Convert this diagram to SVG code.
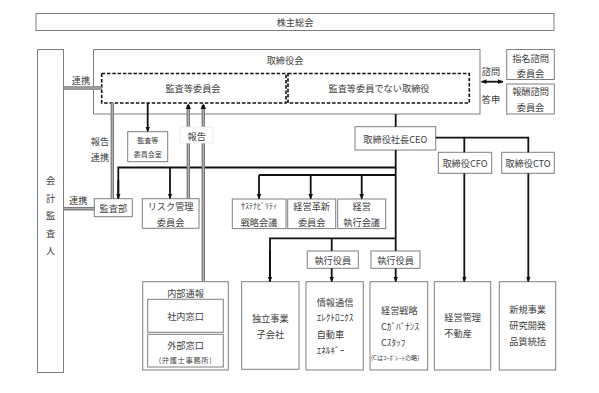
<svg xmlns="http://www.w3.org/2000/svg" width="599" height="393" viewBox="0 0 599 393">
<style>
text{font-family:"Noto Sans CJK JP","Noto Sans",sans-serif;font-size:9.2px;fill:#404040;dominant-baseline:central;text-anchor:middle}
.bx{fill:#fff;stroke:#7f7f7f;stroke-width:1}
.ds{fill:none;stroke:#111;stroke-width:1.6;stroke-dasharray:3.5 1.8}
.k{fill:none;stroke:#111;stroke-width:1.8}
.g1{fill:none;stroke:#7a7a7a;stroke-width:3.4}
.g2{fill:none;stroke:#bdbdbd;stroke-width:1}
.l{text-anchor:start}
.sm{font-size:7px}
</style>
<defs>
<marker id="ah" markerWidth="6" markerHeight="6" refX="5" refY="3" orient="auto" markerUnits="userSpaceOnUse">
<path d="M0,0.6 L5.5,3 L0,5.4 Z" fill="#111"/>
</marker>
<marker id="as" markerWidth="6" markerHeight="6" refX="0.5" refY="3" orient="auto" markerUnits="userSpaceOnUse">
<path d="M5.5,0.6 L0,3 L5.5,5.4 Z" fill="#111"/>
</marker>
</defs>

<g id="shareholders"><rect class="bx" x="36" y="13.5" width="518" height="17"/><text x="295" y="22">株主総会</text></g>

<g id="auditor"><rect class="bx" x="37.5" y="49.5" width="26" height="323"/>
<text x="50.5" y="180">会</text><text x="50.5" y="197.5">計</text><text x="50.5" y="215">監</text><text x="50.5" y="232.5">査</text><text x="50.5" y="250">人</text></g>

<g id="board"><rect class="bx" x="93.5" y="49.5" width="386.5" height="64.5"/><text x="285" y="60">取締役会</text></g>
<g id="audit-committee"><rect class="ds" x="101.7" y="73.5" width="184.3" height="29.5"/><text x="193" y="88">監査等委員会</text></g>
<g id="non-audit-directors"><rect class="ds" x="288" y="73.5" width="181.3" height="29.5"/><text x="379" y="88">監査等委員でない取締役</text></g>

<g id="nomination"><rect class="bx" x="506.7" y="49.5" width="47.6" height="30"/><text x="530.5" y="57.5">指名諮問</text><text x="530.5" y="72.5">委員会</text></g>
<g id="remuneration"><rect class="bx" x="506.7" y="84" width="47.6" height="30"/><text x="530.5" y="91">報酬諮問</text><text x="530.5" y="107">委員会</text></g>

<g id="audit-office"><rect class="bx" x="127.7" y="131.7" width="40" height="30"/><text class="sm" x="147.7" y="140">監査等</text><text class="sm" x="147.7" y="154">委員会室</text></g>

<g id="ceo"><rect class="bx" x="355" y="126.7" width="80.7" height="23.3"/><text x="395.3" y="138.5">取締役社長CEO</text></g>
<g id="cfo"><rect class="bx" x="438.3" y="152.3" width="53.4" height="21"/><text x="465" y="163">取締役CFO</text></g>
<g id="cto"><rect class="bx" x="501.7" y="152.3" width="52.6" height="21"/><text x="528" y="163">取締役CTO</text></g>

<g id="audit-dept"><rect class="bx" x="94.3" y="198.7" width="38" height="18"/><text x="113.3" y="208">監査部</text></g>
<g id="risk"><rect class="bx" x="142.3" y="198.7" width="56.7" height="29.6"/><text x="170.6" y="205.5">リスク管理</text><text x="170.6" y="221.5">委員会</text></g>
<g id="sustainability"><rect class="bx" x="232.3" y="199" width="53.7" height="29.6"/><text x="259" y="205.5" style="font-size:8px">ｻｽﾃﾅﾋﾞﾘﾃｨ</text><text x="259" y="221.5">戦略会議</text></g>
<g id="innovation"><rect class="bx" x="287.7" y="199" width="48" height="29.6"/><text x="311.7" y="205.5">経営革新</text><text x="311.7" y="221.5">委員会</text></g>
<g id="exec-meeting"><rect class="bx" x="337.7" y="199" width="48" height="29.6"/><text x="361.7" y="205.5">経営</text><text x="361.7" y="221.5">執行会議</text></g>

<g id="officer1"><rect class="bx" x="307.3" y="251" width="51" height="17.3"/><text x="332.8" y="259.7">執行役員</text></g>
<g id="officer2"><rect class="bx" x="371" y="251" width="49" height="17.3"/><text x="395.5" y="259.7">執行役員</text></g>

<g id="whistleblow"><rect class="bx" x="142.7" y="281.7" width="85.6" height="88.3"/><text x="185.5" y="292.7">内部通報</text>
<rect class="bx" x="147.7" y="299.3" width="75.6" height="33"/><text x="185.5" y="316">社内窓口</text>
<rect class="bx" x="147.7" y="334.3" width="75.6" height="32.7"/><text x="185.5" y="345">外部窓口</text><text x="185.5" y="360" style="font-size:7.3px;letter-spacing:0.6px">(弁護士事務所)</text></g>

<g id="subsidiary"><rect class="bx" x="241.7" y="281.7" width="57.3" height="87.6"/><text x="270.3" y="318.3">独立事業</text><text x="270.3" y="334.3">子会社</text></g>
<g id="it"><rect class="bx" x="306" y="281.7" width="57.3" height="88.3"/><text class="l" x="316.7" y="301.7">情報通信</text><text class="l" x="316.7" y="317.3">ｴﾚｸﾄﾛﾆｸｽ</text><text class="l" x="316.7" y="334">自動車</text><text class="l" x="316.7" y="350">ｴﾈﾙｷﾞｰ</text></g>
<g id="strategy"><rect class="bx" x="370" y="281.7" width="57.7" height="88.3"/><text class="l" x="381" y="310">経営戦略</text><text class="l" x="381" y="326">Cｶﾞﾊﾞﾅﾝｽ</text><text class="l" x="381" y="341.7">Cｽﾀｯﾌ</text><text class="l" x="371" y="357.3" style="font-size:6.2px">(Cはｺｰﾎﾟﾚｰﾄの略)</text></g>
<g id="management"><rect class="bx" x="434.3" y="281.7" width="56.4" height="88.3"/><text class="l" x="444.3" y="317.3">経営管理</text><text class="l" x="444.3" y="333.3">不動産</text></g>
<g id="newbiz"><rect class="bx" x="499.3" y="281.7" width="56.4" height="88.3"/><text class="l" x="509.3" y="309.3">新規事業</text><text class="l" x="509.3" y="325">研究開発</text><text class="l" x="509.3" y="340.7">品質統括</text></g>

<g id="connectors">
<!-- black connectors -->
<path class="k" d="M147.7,103 V131.5" marker-end="url(#ah)"/>
<path class="k" d="M395.7,114 V126.7 M395.7,150 V251"/>
<path class="k" d="M118.3,198.5 V167.5 H395.7"/>
<path class="k" d="M170,167.5 V198.5" marker-end="url(#ah)"/>
<path class="k" d="M118.3,180 V198.5" marker-end="url(#ah)"/>
<path class="k" d="M259,175 H395.7"/>
<path class="k" d="M259,175 V198.8" marker-end="url(#ah)"/>
<path class="k" d="M310.7,175 V198.8" marker-end="url(#ah)"/>
<path class="k" d="M361.7,175 V198.8" marker-end="url(#ah)"/>
<path class="k" d="M270,281.5 V238.3 H395.7"/>
<path class="k" d="M270,250 V281.5" marker-end="url(#ah)"/>
<path class="k" d="M331.7,238.3 V251"/>
<path class="k" d="M331.7,268.3 V281.5" marker-end="url(#ah)"/>
<path class="k" d="M395.7,268.3 V281.5" marker-end="url(#ah)"/>
<path class="k" d="M435.7,137.7 H528.3 V152.3 M464.3,137.7 V152.3"/>
<path class="k" d="M464.3,173.3 V281.5" marker-end="url(#ah)"/>
<path class="k" d="M528.3,173.3 V281.5" marker-end="url(#ah)"/>
<path class="k" d="M481.5,81.7 H503" marker-start="url(#as)" marker-end="url(#ah)"/>
<!-- gray double lines -->
<path class="g1" d="M63.5,88 H101.7 M63.5,208.7 H94.3 M112.3,103 V198.7 M188.3,105 V198.7 M203.3,105 V281.7"/>
<path class="g2" d="M63.5,88 H101.7 M63.5,208.7 H94.3 M112.3,103 V198.7 M188.3,105 V198.7 M203.3,105 V281.7"/>
<path d="M185.6,109 L188.3,103.3 L191,109 Z M200.6,109 L203.3,103.3 L206,109 Z" fill="#111"/>
<!-- 報告 label -->
<rect x="180" y="127" width="33" height="16" fill="#fff" stroke="#e8e8e8" stroke-width="0.8"/>
<text x="196.7" y="135.5">報告</text>
</g>

<g id="labels">
<text x="81" y="80">連携</text>
<text x="100" y="140.7">報告</text>
<text x="100" y="156.7">連携</text>
<text x="78.3" y="200">連携</text>
<text x="491" y="71">諮問</text>
<text x="491" y="99">答申</text>
</g>
</svg>
